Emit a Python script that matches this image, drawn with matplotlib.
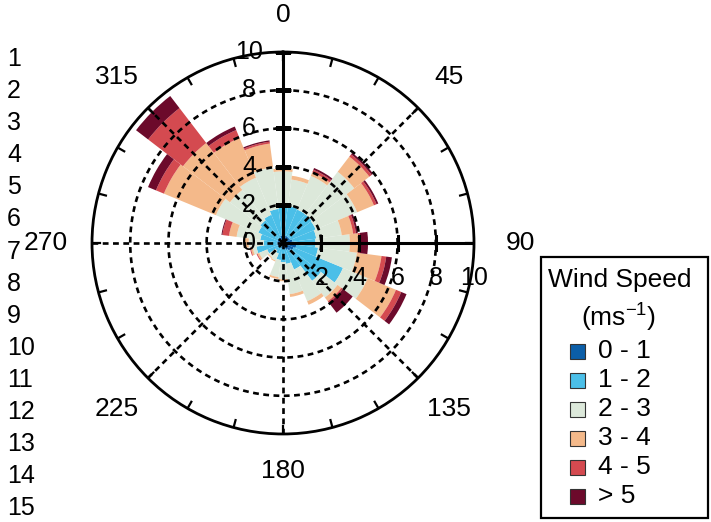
import numpy as np
import matplotlib
matplotlib.use("Agg")
import matplotlib.pyplot as plt
from matplotlib.patches import Rectangle
from matplotlib.transforms import offset_copy

plt.rcParams['font.family'] = ['Liberation Sans', 'DejaVu Sans']
plt.rcParams['mathtext.fontset'] = 'custom'
plt.rcParams['mathtext.rm'] = 'Liberation Sans'
plt.rcParams['mathtext.it'] = 'Liberation Sans'

# 24 direction sectors, 15 degrees each (degrees clockwise from north)
directions = np.arange(0, 360, 15)

speed_bins = ['0 - 1', '1 - 2', '2 - 3', '3 - 4', '4 - 5', '> 5']
bin_colors = ['#0b5ea8', '#4bbfe8', '#dce8da', '#f4b98a', '#d44a50', '#6c0a2b']

# frequency (%) of each speed class in each direction sector
freq_0_1 = [0.4, 0.4, 0.4, 0.4, 0.4, 0.5, 0.6, 0.7, 0.6, 0.5, 0.4, 0.3,
            0.3, 0.3, 0.2, 0.2, 0.3, 0.3, 0.3, 0.3, 0.3, 0.3, 0.3, 0.4]
freq_1_2 = [1.55, 1.55, 1.5, 1.5, 1.45, 1.25, 1.1, 1.15, 2.8, 2.0, 1.1, 0.8,
            0.7, 0.6, 0.4, 0.3, 0.6, 1.1, 0.7, 0.9, 1.1, 1.2, 1.3, 1.4]
freq_2_3 = [1.8, 1.4, 1.9, 2.8, 2.35, 1.35, 1.8, 2.05, 1.4, 1.1, 1.8, 1.6,
            0.9, 0.9, 0.4, 0.45, 0.45, 0.2, 0.8, 1.25, 2.4, 2.0, 2.1, 2.2]
freq_3_4 = [0.15, 0.2, 0.2, 1.0, 0.95, 0.6, 0.45, 1.3, 1.6, 0.25, 0.2, 0.15,
            0.1, 0.1, 0.05, 0.05, 0.1, 0.1, 0.2, 0.4, 2.95, 3.1, 2.25, 1.25]
freq_4_5 = [0.0, 0.0, 0.15, 0.15, 0.15, 0.15, 0.1, 0.25, 0.3, 0.1, 0.0, 0.0,
            0.0, 0.0, 0.0, 0.0, 0.05, 0.05, 0.05, 0.35, 0.45, 2.3, 0.45, 0.1]
freq_gt_5 = [0.0, 0.0, 0.1, 0.1, 0.1, 0.1, 0.4, 0.3, 0.3, 0.65, 0.0, 0.0,
             0.0, 0.0, 0.0, 0.0, 0.0, 0.0, 0.0, 0.05, 0.45, 0.8, 0.2, 0.07]

radial_ticks = [0, 2, 4, 6, 8, 10]
left_numbers = list(range(1, 16))

fig = plt.figure(figsize=(7.11, 5.22), dpi=100)

# full-figure overlay in pixel units for the side texts and the legend box
ov = fig.add_axes([0, 0, 1, 1])
ov.set_xlim(0, 711)
ov.set_ylim(522, 0)
ov.axis('off')

ax = fig.add_axes([0.1294, 0.1686, 0.5373, 0.7318], projection='polar')
ax.patch.set_alpha(0)
ax.set_theta_zero_location('N')
ax.set_theta_direction(-1)
ax.set_ylim(0, 10)
ax.grid(False)
ax.set_xticks([])
ax.set_yticks([])
ax.spines['polar'].set_linewidth(2.0)
ax.spines['polar'].set_color('black')

theta = np.deg2rad(directions)
width = np.deg2rad(15)
bottom = np.zeros(len(directions))
for freq, col in zip([freq_0_1, freq_1_2, freq_2_3, freq_3_4, freq_4_5, freq_gt_5], bin_colors):
    freq = np.asarray(freq)
    ax.bar(theta, freq, width=width, bottom=bottom, color=col,
           edgecolor='none', linewidth=0, zorder=1)
    bottom = bottom + freq

# dashed rings and spokes
ring = np.linspace(0, 2 * np.pi, 500)
dash = dict(color='black', lw=1.9, ls=(0, (2.2, 1.7)), zorder=3)
for r in radial_ticks[1:-1]:
    ax.plot(ring, np.full_like(ring, r), **dash)
for a in range(0, 360, 45):
    ax.plot([np.deg2rad(a)] * 2, [0, 10], **dash)

# solid north and east axes with tick marks
for a, mk in [(0, '_'), (90, '|')]:
    t = np.deg2rad(a)
    ax.plot([t, t], [0, 10], color='black', lw=2.2, zorder=4)
    ax.plot([t] * 5, radial_ticks[1:], ls='none', marker=mk, ms=12,
            mew=2.2, color='black', zorder=4)

# small ticks around the outer ring
for a in range(0, 360, 15):
    t = np.deg2rad(a)
    ax.plot([t, t], [9.6, 10], color='black', lw=1.6, zorder=4)

# compass labels
for a in range(0, 360, 45):
    r = 11.95 + 0.5 * abs(np.sin(np.deg2rad(a)))
    ax.text(np.deg2rad(a), r, str(a), ha='center', va='center',
            fontsize=19, clip_on=False)

# radial labels along the north and east axes
north_off = offset_copy(ax.transData, fig=fig, x=-34, y=0, units='dots')
east_off = offset_copy(ax.transData, fig=fig, x=0, y=-35, units='dots')
for r in radial_ticks:
    ax.text(0, r, str(r), transform=north_off, ha='center', va='center',
            fontsize=18, zorder=5)
for r in radial_ticks[1:]:
    ax.text(np.pi / 2, r, str(r), transform=east_off, ha='center',
            va='center', fontsize=18, zorder=5)

# column of numbers down the left edge
for i, n in enumerate(left_numbers):
    ov.text(7, 59 + 32.1 * i, str(n), ha='left', va='center', fontsize=18)

# legend box
ov.add_patch(Rectangle((541, 257), 167, 261, fill=False, lw=1.6,
                       ec='black'))
ov.text(620, 280, 'Wind Speed', ha='center', va='center', fontsize=19)
ov.text(619, 318, r'(ms$^{-1}$)', ha='center', va='center', fontsize=19)
for i, (lab, col) in enumerate(zip(speed_bins, bin_colors)):
    y = 351 + 29 * i
    ov.add_patch(Rectangle((570, y - 7.5), 15, 15, fc=col, ec='#333333',
                           lw=0.8))
    ov.text(598, y, lab, ha='left', va='center', fontsize=19)

fig.savefig('out.png', dpi=100)
